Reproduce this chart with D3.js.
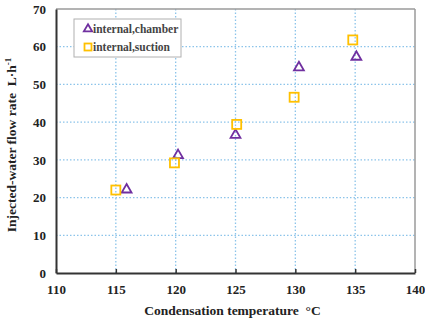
<!DOCTYPE html>
<html>
<head>
<meta charset="utf-8">
<script src="https://cdn.jsdelivr.net/npm/d3@7"></script>
<style>
	body { margin: 0; background: #fff; }
	svg text { font-family: "Liberation Serif", "Times New Roman", serif; font-weight: bold; fill: #222; }
</style>
</head>
<body>
<svg id="chart" width="425" height="323"></svg>
<script>
// values
var chamberTemp = [115.9, 120.2, 125.0, 130.3, 135.1];
var chamberFlow = [22.1, 31.2, 36.6, 54.5, 57.3];
var suctionTemp = [115.0, 119.9, 125.1, 129.9, 134.8];
var suctionFlow = [22.0, 29.2, 39.4, 46.6, 61.8];
var xTicks = [110, 115, 120, 125, 130, 135, 140];
var yTicks = [0, 10, 20, 30, 40, 50, 60, 70];
var seriesNames = ["internal,chamber", "internal,suction"];

var svg = d3.select("#chart");

var plotLeft = 56, plotRight = 415, plotTop = 9, plotBottom = 273;

var x = d3.scaleLinear().domain([110, 140]).range([plotLeft, plotRight]);
var y = d3.scaleLinear().domain([0, 70]).range([plotBottom, plotTop]);

// grid
var grid = svg.append("g");
grid.selectAll(".vgrid")
	.data(xTicks.slice(1, -1))
.enter().append("line")
	.attr("x1", (d) => x(d)).attr("x2", (d) => x(d))
	.attr("y1", plotTop).attr("y2", plotBottom)
	.style("stroke", "#8cc4ea")
	.style("stroke-width", 1.3)
	.style("stroke-dasharray", "1.5,2");
grid.selectAll(".hgrid")
	.data(yTicks.slice(1, -1))
.enter().append("line")
	.attr("y1", (d) => y(d)).attr("y2", (d) => y(d))
	.attr("x1", plotLeft).attr("x2", plotRight)
	.style("stroke", "#8cc4ea")
	.style("stroke-width", 1.3)
	.style("stroke-dasharray", "1.5,2");

// frame: top and right are grey
svg.append("line")
	.attr("x1", plotLeft).attr("x2", plotRight).attr("y1", plotTop).attr("y2", plotTop)
	.style("stroke", "#9a9a9a").style("stroke-width", 1.5);
svg.append("line")
	.attr("x1", plotRight).attr("x2", plotRight).attr("y1", plotTop).attr("y2", plotBottom)
	.style("stroke", "#9a9a9a").style("stroke-width", 1.5);

// axes
var xAxis = d3.axisBottom(x).tickValues(xTicks).tickSize(4).tickSizeOuter(0);
var yAxis = d3.axisLeft(y).tickValues(yTicks).tickSize(0).tickSizeOuter(0);

var gx = svg.append("g")
	.attr("transform", "translate(0," + plotBottom + ")")
	.call(xAxis);
gx.selectAll("line").attr("y2", -4).style("stroke", "#333").style("stroke-width", 1.5);
gx.select(".domain").style("stroke", "#333").style("stroke-width", 2);
gx.selectAll("text")
	.attr("y", 12)
	.style("font-size", "13px")
	.style("font-family", "Liberation Serif")
	.style("font-weight", "bold")
	.style("fill", "#222");

var gy = svg.append("g")
	.attr("transform", "translate(" + plotLeft + ",0)")
	.call(yAxis);
gy.select(".domain").style("stroke", "#333").style("stroke-width", 2);
gy.selectAll("text")
	.attr("x", -10)
	.style("font-size", "13px")
	.style("font-family", "Liberation Serif")
	.style("font-weight", "bold")
	.style("fill", "#222");

// axis titles (non-breaking spaces keep the wide gap)
svg.append("text")
	.attr("x", (plotLeft + plotRight) / 2 - 3)
	.attr("y", 315)
	.attr("text-anchor", "middle")
	.style("font-size", "13.5px")
	.text("Condensation temperature\u00A0\u00A0\u00B0C");

svg.append("text")
	.attr("transform", "translate(16," + ((plotTop + plotBottom) / 2 + 4) + ") rotate(-90)")
	.attr("text-anchor", "middle")
	.style("font-size", "13.5px")
	.text("Injected-water flow rate\u00A0\u00A0L\u00B7h")
	.append("tspan")
	.attr("dy", -5)
	.style("font-size", "9px")
	.text("-1");

// markers
var triangle = d3.symbol().type(d3.symbolTriangle).size(42);

svg.selectAll(".chamber")
	.data(chamberTemp)
.enter().append("path")
	.attr("class", "chamber")
	.attr("d", triangle)
	.attr("transform", (d, i) => "translate(" + x(d) + "," + y(chamberFlow[i]) + ")")
	.style("fill", "none")
	.style("stroke", "#7030a0")
	.style("stroke-width", 1.8);

svg.selectAll(".suction")
	.data(suctionTemp)
.enter().append("rect")
	.attr("class", "suction")
	.attr("x", (d) => x(d) - 4.5)
	.attr("y", (d, i) => y(suctionFlow[i]) - 4.5)
	.attr("width", 9)
	.attr("height", 9)
	.style("fill", "none")
	.style("stroke", "#ffc000")
	.style("stroke-width", 1.8);

// legend
var legend = svg.append("g");
legend.append("rect")
	.attr("x", 74).attr("y", 19)
	.attr("width", 107).attr("height", 38)
	.style("fill", "#fff")
	.style("stroke", "#b0b0b0")
	.style("stroke-width", 1);

legend.append("path")
	.attr("d", d3.symbol().type(d3.symbolTriangle).size(30))
	.attr("transform", "translate(88,29)")
	.style("fill", "none")
	.style("stroke", "#7030a0")
	.style("stroke-width", 1.8);
legend.append("rect")
	.attr("x", 84.5).attr("y", 43.5)
	.attr("width", 7).attr("height", 7)
	.style("fill", "none")
	.style("stroke", "#ffc000")
	.style("stroke-width", 1.8);

legend.selectAll(".legText")
	.data(seriesNames)
.enter().append("text")
	.attr("x", 93)
	.attr("y", (d, i) => 33 + i * 18)
	.style("font-size", "11.5px")
	.style("font-weight", "bold")
	.style("fill", "#444")
	.text((d) => d);
</script>
</body>
</html>
